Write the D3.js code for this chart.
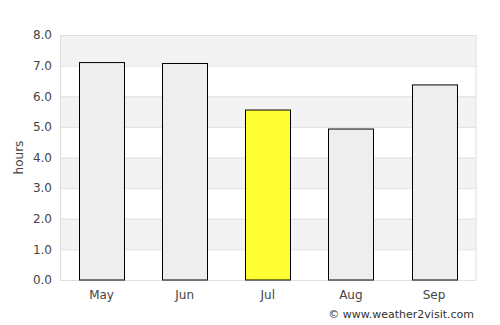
<!DOCTYPE html>
<html>
<head>
<meta charset="utf-8">
<script src="https://cdn.jsdelivr.net/npm/d3@7"></script>
<style>
  body { margin: 0; background: #fff; }
  svg text { font-family: "DejaVu Sans", sans-serif; }
</style>
</head>
<body>
<div id="chart"></div>
<script>
// sunshine hours per month
const months = ["May", "Jun", "Jul", "Aug", "Sep"];
const hours = [7.1, 7.07, 5.55, 4.93, 6.37];
const highlight = "Jul";
const yTicks = [0, 1, 2, 3, 4, 5, 6, 7, 8];

const width = 500, height = 325;
const margin = { top: 35, right: 24.5, bottom: 45, left: 60 };
const w = width - margin.left - margin.right;
const h = height - margin.top - margin.bottom;

const svg = d3.select("#chart").append("svg")
  .attr("width", width).attr("height", height);

const g = svg.append("g").attr("transform", `translate(${margin.left},${margin.top})`);

const x = d3.scaleBand().domain(months).range([0, w]).paddingInner(0.46).paddingOuter(0.23);
const y = d3.scaleLinear().domain([0, 8]).range([h, 0]);

// alternating bands
g.selectAll(".band")
  .data(yTicks.slice(0, -1).filter(d => d % 2 === 1))
  .enter().append("rect")
  .attr("x", 0).attr("width", w)
  .attr("y", d => y(d + 1)).attr("height", d => y(d) - y(d + 1))
  .attr("fill", "#f3f3f3");

// grid lines
g.selectAll(".grid")
  .data(yTicks)
  .enter().append("line")
  .attr("x1", 0).attr("x2", w)
  .attr("y1", d => y(d) + 0.5).attr("y2", d => y(d) + 0.5)
  .attr("stroke", "#e0e0e0");

// plot frame sides
g.append("line").attr("x1", 0.5).attr("x2", 0.5).attr("y1", 0).attr("y2", h + 0.5).attr("stroke", "#dddddd");
g.append("line").attr("x1", w + 0.5).attr("x2", w + 0.5).attr("y1", 0).attr("y2", h + 0.5).attr("stroke", "#dddddd");

// bars
g.selectAll(".bar")
  .data(months)
  .enter().append("rect")
  .attr("x", d => Math.round(x(d)) + 0.5)
  .attr("width", Math.round(x.bandwidth()))
  .attr("y", (d, i) => y(hours[i]))
  .attr("height", (d, i) => h - y(hours[i]))
  .attr("fill", d => d === highlight ? "#ffff33" : "#eeeeee")
  .attr("stroke", "#000")
  .attr("stroke-width", 1);

// y axis labels
const yAxis = g.append("g").call(d3.axisLeft(y).tickValues(yTicks).tickFormat(d3.format(".1f")).tickSize(0).tickPadding(8));
yAxis.select(".domain").remove();
yAxis.attr("font-family", null);
yAxis.selectAll("text").attr("fill", "#444").style("font-size", "12px");

// x axis labels
const xAxis = g.append("g").attr("transform", `translate(0,${h})`)
  .call(d3.axisBottom(x).tickSize(0).tickPadding(10));
xAxis.select(".domain").remove();
xAxis.attr("font-family", null);
xAxis.selectAll("text").attr("fill", "#444").style("font-size", "12px");

svg.append("text")
  .attr("transform", `translate(23,${margin.top + h / 2}) rotate(-90)`)
  .attr("text-anchor", "middle")
  .attr("fill", "#444")
  .style("font-size", "12px")
  .text("hours");

svg.append("text")
  .attr("x", 474).attr("y", 318)
  .attr("text-anchor", "end")
  .attr("fill", "#333")
  .style("font-size", "11px")
  .text("© www.weather2visit.com");
</script>
</body>
</html>
